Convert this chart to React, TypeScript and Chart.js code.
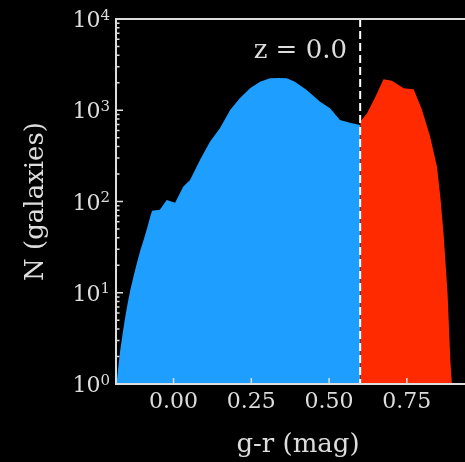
import React, { useEffect, useRef } from "react";
import { Chart, registerables } from "chart.js";

Chart.register(...registerables);

// ---- data ----
const blueX = [-0.185, -0.182, -0.177, -0.171, -0.163, -0.155, -0.147, -0.139, -0.128, -0.118, -0.107, -0.096, -0.085, -0.075, -0.069, -0.044, -0.022, 0.005, 0.031, 0.053, 0.085, 0.117, 0.149, 0.182, 0.213, 0.246, 0.278, 0.31, 0.337, 0.364, 0.39, 0.428, 0.471, 0.503, 0.535, 0.567, 0.6];
const blueN = [1.0, 1.1, 1.6, 2.4, 3.7, 5.5, 7.8, 10.7, 15.5, 21, 29, 38, 51, 68, 79, 81, 104, 97, 145, 172, 285, 452, 634, 1006, 1352, 1741, 2055, 2240, 2260, 2240, 2055, 1667, 1241, 1050, 782, 731, 689];
const redX = [0.6, 0.622, 0.649, 0.675, 0.702, 0.74, 0.772, 0.799, 0.825, 0.847, 0.858, 0.868, 0.881, 0.89, 0.895];
const redN = [750, 926, 1407, 2183, 2108, 1741, 1698, 1006, 513, 240, 110, 45, 9.9, 1.8, 1.0];

const xTickValues = [0, 0.25, 0.5, 0.75];
const yTickExponents = [0, 1, 2, 3, 4];
const colorSplit = 0.6;
const annotation = "z = 0.0";
const xTitle = "g-r (mag)";
const yTitle = "N (galaxies)";

const BLUE = "#1E9FFF";
const RED = "#FF2A00";
const FG = "#DDDDDD";
const SERIF = "'DejaVu Serif', serif";

const overlay = {
  id: "overlay",
  afterDatasetsDraw(chart: any) {
    const { ctx, chartArea: a, scales } = chart;
    const xs = scales.x;
    const ys = scales.y;
    ctx.save();

    // dashed split line
    const xd = xs.getPixelForValue(colorSplit);
    ctx.strokeStyle = "#FFFFFF";
    ctx.lineWidth = 2;
    ctx.setLineDash([8, 4]);
    ctx.beginPath();
    ctx.moveTo(xd, a.top);
    ctx.lineTo(xd, a.bottom);
    ctx.stroke();
    ctx.setLineDash([]);

    // spines
    ctx.strokeStyle = FG;
    ctx.lineWidth = 2;
    ctx.beginPath();
    ctx.moveTo(a.right, a.top);
    ctx.lineTo(a.left, a.top);
    ctx.lineTo(a.left, a.bottom);
    ctx.lineTo(a.right, a.bottom);
    ctx.stroke();

    // ticks
    ctx.lineWidth = 1.5;
    ctx.beginPath();
    for (const v of xTickValues) {
      const px = xs.getPixelForValue(v);
      ctx.moveTo(px, a.bottom);
      ctx.lineTo(px, a.bottom - 6);
    }
    for (let i = 0; i < yTickExponents.length; i++) {
      const e = yTickExponents[i];
      const py = ys.getPixelForValue(Math.pow(10, e));
      ctx.moveTo(a.left, py);
      ctx.lineTo(a.left + 7, py);
      if (i < yTickExponents.length - 1) {
        for (let m = 2; m <= 9; m++) {
          const pm = ys.getPixelForValue(m * Math.pow(10, e));
          ctx.moveTo(a.left, pm);
          ctx.lineTo(a.left + 3.5, pm);
        }
      }
    }
    ctx.stroke();

    // x tick labels
    ctx.fillStyle = FG;
    ctx.font = `22px ${SERIF}`;
    ctx.textAlign = "center";
    ctx.textBaseline = "alphabetic";
    for (const v of xTickValues) {
      ctx.fillText(v.toFixed(2), xs.getPixelForValue(v), 408);
    }

    // y tick labels 10^e
    for (const e of yTickExponents) {
      const py = ys.getPixelForValue(Math.pow(10, e));
      ctx.font = `15px ${SERIF}`;
      const sup = String(e);
      const supW = ctx.measureText(sup).width;
      const right = 110;
      ctx.textAlign = "left";
      ctx.fillText(sup, right - supW, py + 0.5);
      ctx.font = `22px ${SERIF}`;
      ctx.textAlign = "right";
      ctx.fillText("10", right - supW, py + 8);
    }

    // axis titles
    ctx.font = `26px ${SERIF}`;
    ctx.textAlign = "center";
    ctx.fillText(xTitle, 298, 452);
    ctx.save();
    ctx.translate(43, (a.top + a.bottom) / 2);
    ctx.rotate(-Math.PI / 2);
    ctx.fillText(yTitle, 0, 0);
    ctx.restore();

    // annotation
    ctx.font = `26px ${SERIF}`;
    ctx.textAlign = "right";
    ctx.fillText(annotation, 347, 58);

    ctx.restore();
  },
};

export default function App() {
  const ref = useRef<HTMLCanvasElement>(null);
  useEffect(() => {
    document.body.style.margin = "0";
    document.body.style.background = "#000";
    const chart = new Chart(ref.current!, {
      type: "line",
      data: {
        datasets: [
          {
            data: blueX.map((x, i) => ({ x, y: blueN[i] })),
            backgroundColor: BLUE,
            borderWidth: 0,
            pointRadius: 0,
            fill: "start",
            tension: 0,
          },
          {
            data: redX.map((x, i) => ({ x, y: redN[i] })),
            backgroundColor: RED,
            borderWidth: 0,
            pointRadius: 0,
            fill: "start",
            tension: 0,
          },
        ],
      },
      options: {
        animation: false,
        responsive: false,
        devicePixelRatio: 1,
        layout: { padding: { top: 19, left: 0, right: 0, bottom: 0 } },
        plugins: { legend: { display: false }, tooltip: { enabled: false } },
        scales: {
          x: {
            type: "linear",
            min: -0.185,
            max: 0.937,
            ticks: { display: false },
            grid: { display: false },
            border: { display: false },
            afterFit: (s: any) => {
              s.height = 78;
            },
          },
          y: {
            type: "logarithmic",
            min: 1,
            max: 10000,
            ticks: { display: false },
            grid: { display: false },
            border: { display: false },
            afterFit: (s: any) => {
              s.width = 116;
            },
          },
        },
      },
      plugins: [overlay],
    });
    return () => chart.destroy();
  }, []);
  return (
    <div style={{ position: "fixed", left: 0, top: 0, width: 465, height: 462, background: "#000" }}>
      <canvas ref={ref} width={465} height={462} style={{ display: "block" }} />
    </div>
  );
}
